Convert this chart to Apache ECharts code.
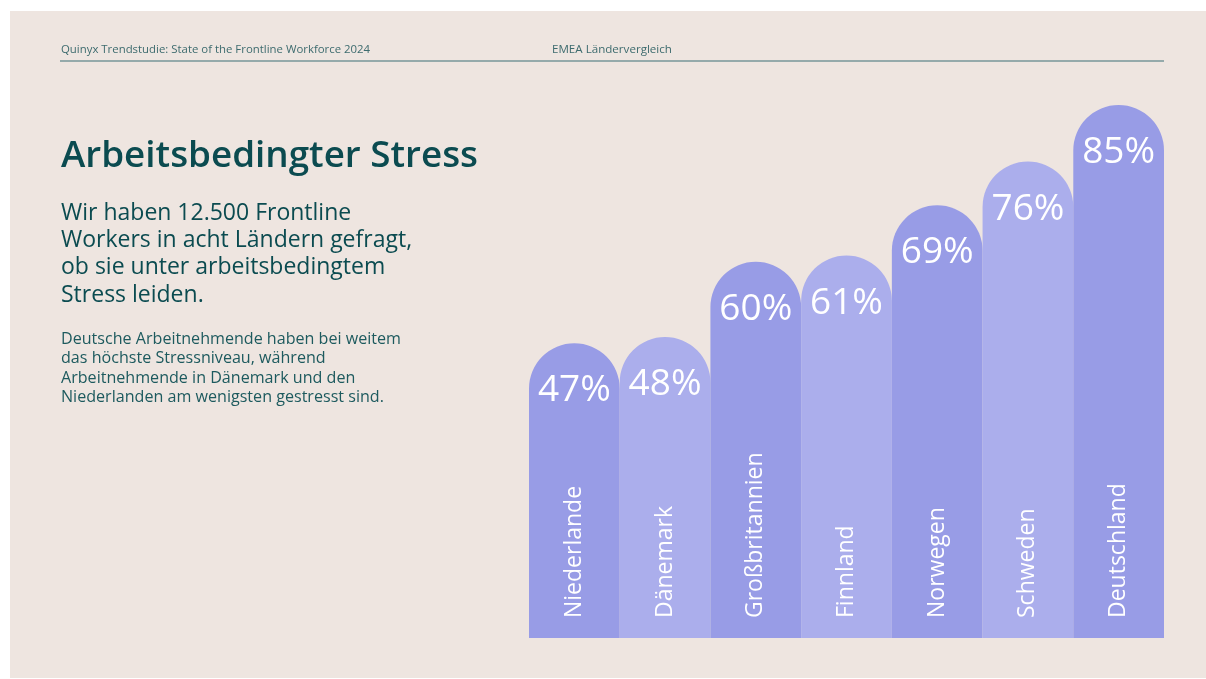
<!DOCTYPE html>
<html>
<head>
<meta charset="utf-8">
<script src="https://cdn.jsdelivr.net/npm/echarts@6/dist/echarts.min.js"></script>
<style>
  html, body { margin: 0; padding: 0; background: #ffffff; }
  #chart { width: 1206px; height: 679px; }
</style>
</head>
<body>
<div id="chart"></div>
<script>
const categories = ['Niederlande', 'Dänemark', 'Großbritannien', 'Finnland', 'Norwegen', 'Schweden', 'Deutschland'];
const values = [47, 48, 60, 61, 69, 76, 85];
const barColors = ['#989ce6', '#abaeec', '#989ce6', '#abaeec', '#989ce6', '#abaeec', '#989ce6'];

const FONT = '"Open Sans", "DejaVu Sans", sans-serif';
const chart = echarts.init(document.getElementById('chart'), null, { renderer: 'canvas' });

chart.setOption({
  backgroundColor: '#ffffff',
  animation: false,
  grid: { left: 529, right: 42, top: 11, bottom: 41 },
  xAxis: {
    type: 'category',
    data: categories,
    axisLine: { show: false },
    axisTick: { show: false },
    z: 10,
    axisLabel: {
      inside: true,
      rotate: 90,
      margin: 20,
      color: '#ffffff',
      fontSize: 23,
      fontFamily: FONT
    }
  },
  yAxis: {
    type: 'value',
    min: 0,
    max: 100,
    show: false
  },
  graphic: [
    { type: 'rect', shape: { x: 10, y: 11, width: 1196, height: 667 }, style: { fill: '#eee5e0' }, z: -10 },
    { type: 'text', left: 61, top: 44, style: { text: 'Quinyx Trendstudie: State of the Frontline Workforce 2024', fill: '#3d6b6e', font: '11.4px ' + FONT } },
    { type: 'text', left: 552, top: 44, style: { text: 'EMEA Ländervergleich', fill: '#3d6b6e', font: '11.6px ' + FONT } },
    { type: 'rect', shape: { x: 60, y: 60, width: 1104, height: 2 }, style: { fill: '#95aaab' } },
    { type: 'text', left: 61, top: 138, style: { text: 'Arbeitsbedingter Stress', fill: '#0b4b50', font: '600 36.8px ' + FONT } },
    { type: 'text', left: 61, top: 199.5, style: { text: 'Wir haben 12.500 Frontline\nWorkers in acht Ländern gefragt,\nob sie unter arbeitsbedingtem\nStress leiden.', fill: '#0b4b50', font: '500 23px ' + FONT, lineHeight: 27.3 } },
    { type: 'text', left: 61, top: 329.5, style: { text: 'Deutsche Arbeitnehmende haben bei weitem\ndas höchste Stressniveau, während\nArbeitnehmende in Dänemark und den\nNiederlanden am wenigsten gestresst sind.', fill: '#1d5a5e', font: '16.1px ' + FONT, lineHeight: 19.5 } }
  ],
  series: [{
    type: 'bar',
    data: values.map((v, i) => ({ value: v, itemStyle: { color: barColors[i] } })),
    barCategoryGap: 0,
    itemStyle: { borderRadius: [46, 46, 0, 0] },
    label: {
      show: true,
      position: 'insideTop',
      distance: 29,
      formatter: '{c}%',
      color: '#ffffff',
      fontSize: 37,
      fontFamily: FONT
    }
  }]
});
</script>
</body>
</html>
